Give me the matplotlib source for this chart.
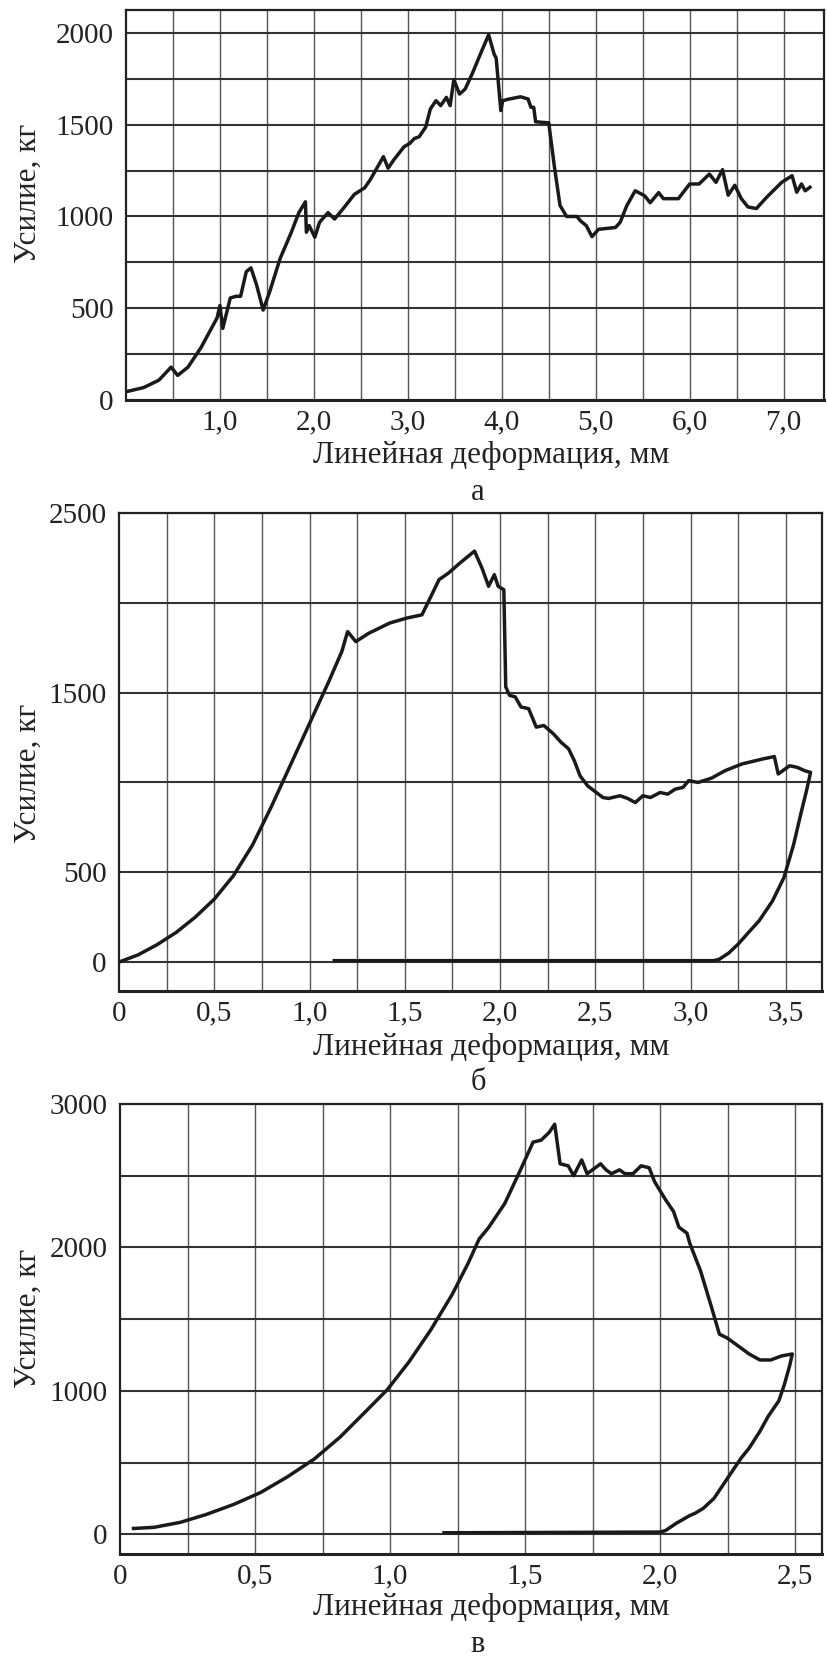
import numpy as np
import matplotlib
matplotlib.use("Agg")
import matplotlib.pyplot as plt

plt.rcParams['font.family'] = ['Liberation Serif', 'DejaVu Serif']

# panel a: load vs deformation
xa = [0.0, 0.19, 0.35, 0.48, 0.55, 0.66, 0.80, 0.97, 1.0, 1.03, 1.11, 1.17, 1.22, 1.28, 1.33,
      1.39, 1.46, 1.53, 1.64, 1.76, 1.84, 1.91, 1.92, 1.95, 2.01, 2.06, 2.15, 2.22, 2.32, 2.43,
      2.54, 2.60, 2.68, 2.74, 2.79, 2.85, 2.96, 3.02, 3.07, 3.12, 3.19, 3.24, 3.30, 3.35, 3.41,
      3.45, 3.49, 3.55, 3.61, 3.69, 3.77, 3.86, 3.92, 3.94, 3.99, 4.01, 4.08, 4.20, 4.28, 4.31,
      4.34, 4.36, 4.50, 4.56, 4.62, 4.69, 4.80, 4.84, 4.90, 4.96, 5.03, 5.21, 5.26, 5.33, 5.42,
      5.52, 5.58, 5.67, 5.72, 5.88, 6.0, 6.1, 6.21, 6.28, 6.35, 6.41, 6.48, 6.55, 6.62, 6.71,
      6.82, 6.98, 7.09, 7.14, 7.19, 7.23, 7.28]
ya = [45, 68, 108, 179, 134, 179, 287, 448, 515, 390, 556, 565, 565, 699, 720,
      627, 490, 591, 770, 914, 1021, 1080, 914, 950, 887, 968, 1021, 986, 1048, 1120,
      1156, 1200, 1272, 1326, 1263, 1308, 1380, 1398, 1425, 1434, 1487, 1586, 1631, 1604, 1649,
      1604, 1745, 1667, 1694, 1783, 1882, 1990, 1882, 1864, 1577, 1631, 1640, 1652, 1640, 1595,
      1595, 1516, 1510, 1272, 1060, 1000, 1000, 975, 950, 890, 930, 940, 968, 1058, 1140,
      1113, 1075, 1130, 1097, 1097, 1177, 1177, 1231, 1186, 1255, 1116, 1170, 1097, 1052, 1043,
      1105, 1186, 1222, 1132, 1177, 1140, 1159]

# panel b: loading branch and unloading branch
xb = [0.0, 0.1, 0.2, 0.3, 0.4, 0.5, 0.6, 0.7, 0.8, 0.9, 1.0, 1.1, 1.17, 1.20, 1.243, 1.31,
      1.42, 1.51, 1.59, 1.62, 1.68, 1.73, 1.79, 1.866, 1.905, 1.94, 1.97, 1.99, 2.02, 2.03,
      2.05, 2.08, 2.11, 2.15, 2.19, 2.23, 2.28, 2.32, 2.36, 2.39, 2.42, 2.46, 2.54, 2.57, 2.63,
      2.67, 2.71, 2.75, 2.79, 2.84, 2.88, 2.92, 2.96, 2.99, 3.04, 3.11, 3.18, 3.27, 3.38, 3.44,
      3.46, 3.52, 3.56, 3.60, 3.63,
      3.61, 3.58, 3.54, 3.49, 3.43, 3.36, 3.30, 3.25, 3.20, 3.15, 3.12, 1.13]
yb = [0, 40, 97, 165, 250, 350, 480, 650, 866, 1097, 1328, 1559, 1730, 1840, 1784, 1830,
      1887, 1915, 1933, 1998, 2129, 2166, 2222, 2288, 2194, 2092, 2157, 2092, 2073, 1532,
      1485, 1476, 1420, 1411, 1308, 1317, 1271, 1224, 1187, 1121, 1037, 981, 916, 911, 926,
      911, 888, 926, 916, 944, 935, 963, 972, 1010, 1000, 1024, 1065, 1103, 1131, 1144,
      1047, 1093, 1084, 1065, 1056,
      960, 830, 650, 470, 340, 230, 160, 100, 50, 15, 8, 8]

# panel c: loading branch and unloading branch
xc = [0.05, 0.126, 0.224, 0.32, 0.42, 0.52, 0.62, 0.72, 0.815, 0.91, 0.99, 1.07, 1.15, 1.23,
      1.29, 1.33, 1.366, 1.425, 1.48, 1.53, 1.56, 1.59, 1.61, 1.63, 1.66, 1.68, 1.71, 1.73,
      1.76, 1.78, 1.80, 1.82, 1.85, 1.87, 1.90, 1.93, 1.96, 1.98, 2.02, 2.05, 2.07, 2.10, 2.11,
      2.15, 2.19, 2.22, 2.25, 2.29, 2.33, 2.37, 2.41, 2.45, 2.49,
      2.48, 2.46, 2.44, 2.40, 2.37, 2.33, 2.30, 2.25, 2.20, 2.16, 2.13, 2.11, 2.06, 2.02, 2.0, 1.2]
yc = [40, 48, 83, 138, 207, 290, 400, 525, 677, 856, 1008, 1201, 1422, 1671,
      1892, 2058, 2141, 2306, 2527, 2734, 2748, 2803, 2859, 2583, 2569, 2500, 2610, 2514,
      2555, 2583, 2541, 2514, 2541, 2514, 2514, 2569, 2555, 2458, 2334, 2251, 2141, 2099, 2030,
      1837, 1588, 1395, 1367, 1312, 1257, 1215, 1215, 1243, 1257,
      1174, 1040, 930, 820, 717, 600, 530, 390, 250, 180, 146, 130, 76, 25, 15, 10]

xticks_a = [1, 2, 3, 4, 5, 6, 7]
xlabels_a = ['1,0', '2,0', '3,0', '4,0', '5,0', '6,0', '7,0']
yticks_a = [0, 500, 1000, 1500, 2000]
xticks_b = [0, 0.5, 1.0, 1.5, 2.0, 2.5, 3.0, 3.5]
xlabels_b = ['0', '0,5', '1,0', '1,5', '2,0', '2,5', '3,0', '3,5']
yticks_b = [0, 500, 1500, 2500]
xticks_c = [0, 0.5, 1.0, 1.5, 2.0, 2.5]
xlabels_c = ['0', '0,5', '1,0', '1,5', '2,0', '2,5']
yticks_c = [0, 1000, 2000, 3000]

xlabel = 'Линейная деформация, мм'
ylabel = 'Усилие, кг'
captions = ['а', 'б', 'в']

fig = plt.figure(figsize=(8.27, 16.57), dpi=100)
W, H = 827.0, 1657.0
TXT = '#222222'


def make_axes(l, t, r, b):
    return fig.add_axes([l / W, 1 - b / H, (r - l) / W, (b - t) / H])


def style(ax, xlim, ylim, hstep, vstep, xt, xl, yt):
    ax.set_xlim(*xlim)
    ax.set_ylim(*ylim)
    for v in np.arange(0, xlim[1], vstep)[1:]:
        ax.axvline(v, color='#555555', lw=1.0, zorder=1)
    for h in np.arange(0, ylim[1] + 1, hstep):
        ax.axhline(h, color='#333333', lw=1.5, zorder=1)
    ax.set_xticks(xt)
    ax.set_xticklabels(xl)
    ax.set_yticks(yt)
    ax.set_yticklabels([str(v) for v in yt])
    ax.tick_params(length=0, labelsize=21, colors=TXT)
    ax.tick_params(axis='x', pad=7)
    ax.tick_params(axis='y', pad=9)
    for s in ax.spines.values():
        s.set_color('#222222')
        s.set_linewidth(1.6)
    ax.spines['bottom'].set_linewidth(2.2)


ax1 = make_axes(126, 10, 824, 400)
style(ax1, (0, 7.43), (0, 2125), 250, 0.5, xticks_a, xlabels_a, yticks_a)
ax1.plot(xa, ya, color='#1a1a1a', lw=2.5, zorder=3)

ax2 = make_axes(119, 513, 822, 991)
style(ax2, (0, 3.69), (-161, 2500), 500, 0.25, xticks_b, xlabels_b, yticks_b)
ax2.plot(xb, yb, color='#1a1a1a', lw=2.5, zorder=3)

ax3 = make_axes(120, 1104, 822, 1554)
style(ax3, (0, 2.6), (-138, 3000), 500, 0.25, xticks_c, xlabels_c, yticks_c)
ax3.plot(xc, yc, color='#1a1a1a', lw=2.5, zorder=3)

# label positions in pixels: (x-label y, y-label y, caption y)
label_rows = [(455, 193, 492), (1047, 773, 1083), (1607, 1318, 1644)]
for (yl, yy, cy), cap in zip(label_rows, captions):
    fig.text(491 / W, 1 - yl / H, xlabel, ha='center', va='center', fontsize=22.5, color=TXT)
    fig.text(28 / W, 1 - yy / H, ylabel, ha='center', va='center', rotation=90,
             fontsize=22.5, color=TXT)
    fig.text(478 / W, 1 - cy / H, cap, ha='center', va='center', fontsize=22, color=TXT)

fig.savefig('out.png', dpi=100)
